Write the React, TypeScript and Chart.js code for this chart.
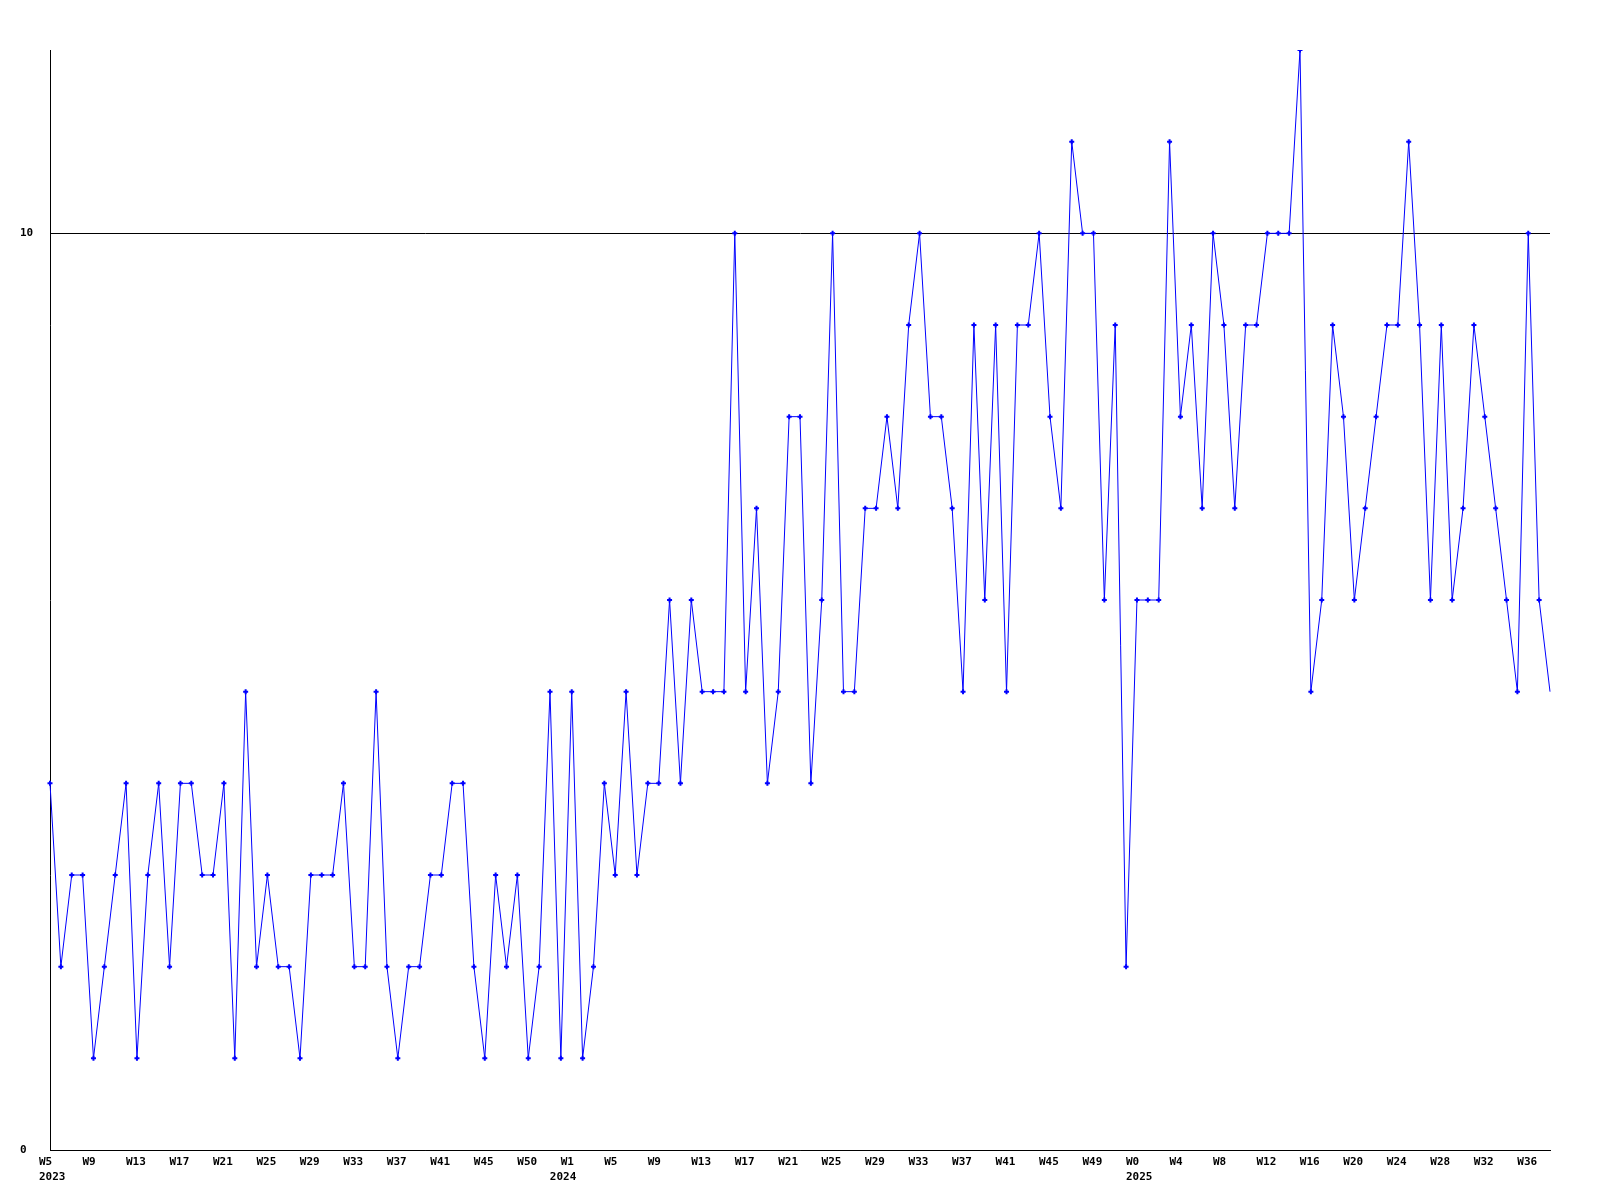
import React, { useEffect, useRef } from 'react';
import { Chart, registerables } from 'chart.js';

Chart.register(...registerables);

// Year names shown under the first point of each year
const years = ['2023', '2024', '2025'];

// Week categories for each year
const weeks2023 = [
  'W5', 'W6', 'W7', 'W8', 'W9', 'W10', 'W11', 'W12', 'W13', 'W14',
  'W15', 'W16', 'W17', 'W18', 'W19', 'W20', 'W21', 'W22', 'W23', 'W24',
  'W25', 'W26', 'W27', 'W28', 'W29', 'W30', 'W31', 'W32', 'W33', 'W34',
  'W35', 'W36', 'W37', 'W38', 'W39', 'W40', 'W41', 'W42', 'W43', 'W44',
  'W45', 'W46', 'W47', 'W48', 'W50', 'W51', 'W52',
];
const weeks2024 = [
  'W0', 'W1', 'W2', 'W3', 'W4', 'W5', 'W6', 'W7', 'W8', 'W9', 'W10',
  'W11', 'W12', 'W13', 'W14', 'W15', 'W16', 'W17', 'W18', 'W19', 'W20',
  'W21', 'W22', 'W23', 'W24', 'W25', 'W26', 'W27', 'W28', 'W29', 'W30',
  'W31', 'W32', 'W33', 'W34', 'W35', 'W36', 'W37', 'W38', 'W39', 'W40',
  'W41', 'W42', 'W43', 'W44', 'W45', 'W46', 'W47', 'W48', 'W49', 'W50',
  'W51', 'W52',
];
const weeks2025 = [
  'W0', 'W1', 'W2', 'W3', 'W4', 'W5', 'W6', 'W7', 'W8', 'W9',
  'W10', 'W11', 'W12', 'W13', 'W14', 'W15', 'W16', 'W17', 'W18', 'W19',
  'W20', 'W21', 'W22', 'W23', 'W24', 'W25', 'W26', 'W27', 'W28', 'W29',
  'W30', 'W31', 'W32', 'W33', 'W34', 'W35', 'W36', 'W37', 'W38',
];

// Weekly values
const values2023 = [
  4, 2, 3, 3, 1, 2, 3, 4, 1, 3,
  4, 2, 4, 4, 3, 3, 4, 1, 5, 2,
  3, 2, 2, 1, 3, 3, 3, 4, 2, 2,
  5, 2, 1, 2, 2, 3, 3, 4, 4, 2,
  1, 3, 2, 3, 1, 2, 5,
];
const values2024 = [
  1, 5, 1, 2, 4, 3, 5, 3, 4, 4, 6,
  4, 6, 5, 5, 5, 10, 5, 7, 4, 5,
  8, 8, 4, 6, 10, 5, 5, 7, 7, 8,
  7, 9, 10, 8, 8, 7, 5, 9, 6, 9,
  5, 9, 9, 10, 8, 7, 11, 10, 10, 6,
  9, 2,
];
const values2025 = [
  6, 6, 6, 11, 8, 9, 7, 10, 9, 7,
  9, 9, 10, 10, 10, 12, 5, 6, 9, 8,
  6, 7, 8, 9, 9, 11, 9, 6, 9, 6,
  7, 9, 8, 7, 6, 5, 10, 6, 5,
];

// Y axis ticks
const yTicks = [0, 10];
const yMax = 12;
const labelEvery = 4;

export default function App() {
  const ref = useRef<HTMLCanvasElement>(null);

  useEffect(() => {
    const weekGroups = [weeks2023, weeks2024, weeks2025];
    const labels: string[] = [];
    const yearAt: Record<number, string> = {};
    weekGroups.forEach((g, gi) => {
      yearAt[labels.length] = years[gi];
      g.forEach((w) => labels.push(w));
    });
    const data = [...values2023, ...values2024, ...values2025];
    const last = data.length - 1;
    const font = {
      family: "'DejaVu Sans Mono', 'Liberation Mono', monospace",
      size: 11,
      weight: 'bold' as const,
      lineHeight: 15 / 11,
    };

    const tickLabel = (i: number) => {
      const week = i % labelEvery === 0 ? labels[i] : null;
      const year = yearAt[i];
      if (year !== undefined) return [week ?? '', year];
      return week;
    };

    const chart = new Chart(ref.current!, {
      type: 'line',
      data: {
        labels,
        datasets: [
          {
            data,
            borderColor: '#0000ff',
            borderWidth: 1,
            tension: 0,
            fill: false,
            pointStyle: 'cross',
            pointRadius: (c: any) => (c.dataIndex === last ? 0 : 2.5),
            pointBorderWidth: 2,
            pointBorderColor: '#0000ff',
            pointBackgroundColor: '#0000ff',
          },
        ],
      },
      options: {
        responsive: false,
        animation: false,
        devicePixelRatio: 1,
        layout: { padding: { top: 50, right: 50, bottom: 0, left: 20 } },
        plugins: { legend: { display: false }, tooltip: { enabled: false } },
        scales: {
          x: {
            type: 'category',
            offset: false,
            grid: { display: false, drawTicks: false },
            border: { display: true, color: '#000', width: 1 },
            ticks: {
              autoSkip: false,
              maxRotation: 0,
              minRotation: 0,
              align: 'start',
              labelOffset: -11,
              padding: 5,
              color: '#000',
              font,
              callback: (_v: any, i: number) => tickLabel(i),
            },
            afterFit: (s: any) => {
              s.height = 50;
            },
          },
          y: {
            min: 0,
            max: yMax,
            grid: { color: '#000', drawTicks: false, lineWidth: 1 },
            border: { display: true, color: '#000', width: 1 },
            ticks: {
              crossAlign: 'far',
              padding: 4,
              color: '#000',
              font: { ...font, lineHeight: 1.2 },
            },
            afterBuildTicks: (s: any) => {
              s.ticks = yTicks.map((v) => ({ value: v }));
            },
            afterFit: (s: any) => {
              s.width = 30;
            },
          },
        },
      },
    } as any);
    return () => chart.destroy();
  }, []);

  return (
    <div style={{ position: 'absolute', left: 0, top: 0, width: 1600, height: 1200, background: '#fff' }}>
      <canvas ref={ref} width={1600} height={1200} style={{ display: 'block' }} />
    </div>
  );
}
